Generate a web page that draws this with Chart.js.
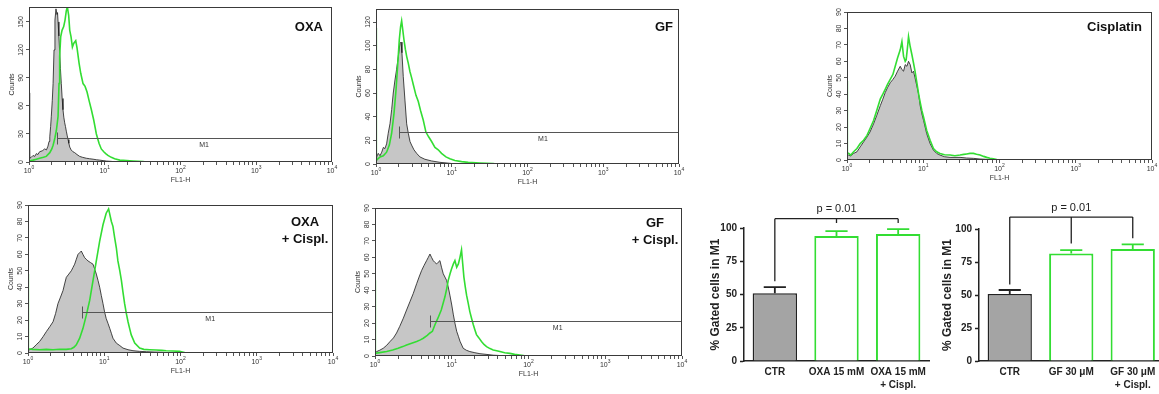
<!DOCTYPE html>
<html>
<head>
<meta charset="UTF-8" />
<title>FL1-H histograms and % gated cells in M1</title>
<script src="https://cdn.jsdelivr.net/npm/chart.js"></script>
<style>
  body {
    margin: 0;
    padding: 0;
    background: #ffffff;
    overflow: hidden;
    width: 1159px;
    height: 394px;
    position: relative;
  }
  canvas { position: absolute; }
</style>
</head>
<body>
<canvas id="h1" width="340" height="183" style="left:4px; top:3px;"></canvas>
<canvas id="h2" width="340" height="183" style="left:351px; top:5px;"></canvas>
<canvas id="h3" width="342" height="176" style="left:822px; top:8px;"></canvas>
<canvas id="h4" width="342" height="176" style="left:3px; top:201px;"></canvas>
<canvas id="h5" width="344" height="176" style="left:350px; top:204px;"></canvas>
<canvas id="b1" width="245" height="194" style="left:695px; top:200px;"></canvas>
<canvas id="b2" width="240" height="194" style="left:930px; top:200px;"></canvas>

<script>
// ---- histogram data (FL1-H channel, counts) ----
// OXA
const p1GrayX = [1, 1.02, 1.07, 1.13, 1.19, 1.25, 1.31, 1.38, 1.5, 1.61, 1.7, 1.78, 1.84, 1.88, 1.93, 1.97, 2.03, 2.08, 2.14, 2.2, 2.27, 2.34, 2.38, 2.42, 2.48, 2.54, 2.6, 2.67, 2.74, 2.81, 2.88, 2.96, 3.03, 3.11, 3.2, 3.28, 3.36, 3.45, 3.6, 3.8, 4.01, 4.3, 4.67, 5.1, 5.72, 6.3, 7.01, 7.8, 8.59, 9.5, 10.5, 12, 15, 10000];
const p1GrayY = [74, 4, 5, 7, 6, 9, 8, 11, 12, 14, 13, 17, 22, 27, 38, 49, 66, 84, 120, 152, 164, 158, 160, 150, 135, 118, 100, 84, 68, 56, 48, 42, 38, 33, 28, 24, 20, 16, 13, 11, 10, 8, 6, 5, 4, 3.5, 3, 2.4, 2, 1.5, 1, 0.7, 0, 0];
const p1GreenX = [1, 1.13, 1.25, 1.38, 1.55, 1.69, 1.88, 2.0, 2.08, 2.2, 2.3, 2.42, 2.49, 2.54, 2.62, 2.73, 2.87, 2.99, 3.11, 3.21, 3.34, 3.45, 3.59, 3.74, 3.89, 4.14, 4.31, 4.58, 4.82, 5.17, 5.5, 5.84, 6.2, 6.66, 7.15, 7.75, 8.4, 9.0, 9.7, 10.3, 11.0, 12.2, 13.5, 15.8, 19.4, 23.7, 32, 35.4, 10000];
const p1GreenY = [1, 2, 3, 4, 5, 6, 10, 14, 18, 26, 34, 49, 84, 113, 134, 141, 145, 152, 162, 166, 157, 141, 134, 123, 127, 130, 122, 106, 95, 84, 81, 75, 66, 56, 45, 30, 20, 14, 11, 9, 7, 5, 3.5, 2, 1.5, 1, 0.4, 0, 0];
// GF
const p2GrayX = [1, 1.02, 1.07, 1.13, 1.19, 1.25, 1.31, 1.38, 1.45, 1.53, 1.61, 1.69, 1.78, 1.87, 1.97, 2.07, 2.14, 2.2, 2.29, 2.41, 2.54, 2.67, 2.81, 2.95, 3.17, 3.44, 3.8, 4.42, 5.41, 6.98, 9.45, 11, 10000];
const p2GrayY = [3, 6, 9, 7, 10, 14, 13, 17, 26, 34, 46, 60, 71, 80, 91, 102, 103, 94, 74, 54, 34, 26, 19, 16, 12, 9, 6, 4, 2.6, 1.4, 0.6, 0, 0];
const p2GreenX = [1, 1.01, 1.13, 1.25, 1.38, 1.5, 1.61, 1.73, 1.84, 1.93, 2.03, 2.11, 2.18, 2.25, 2.34, 2.44, 2.54, 2.67, 2.81, 2.95, 3.11, 3.37, 3.61, 3.88, 4.21, 4.56, 4.95, 5.42, 6.0, 6.63, 7.33, 8.38, 9.45, 11.0, 13.5, 16.5, 23.5, 35.2, 39, 10000];
const p2GreenY = [115, 3, 6, 7, 10, 16, 26, 43, 63, 83, 105, 116, 121, 114, 105, 97, 91, 85, 78, 73, 67, 58, 53, 45, 37, 27, 23, 19, 14, 12, 9, 6, 4.5, 3, 2, 1.4, 0.8, 0.3, 0, 0];
// Cisplatin
const p3GrayX = [1, 1.05, 1.12, 1.22, 1.35, 1.49, 1.65, 1.83, 2.0, 2.23, 2.45, 2.73, 2.95, 3.17, 3.4, 3.69, 4.0, 4.29, 4.6, 4.99, 5.25, 5.52, 5.8, 6.1, 6.41, 6.74, 7.1, 7.45, 7.8, 8.24, 8.7, 9.12, 9.6, 10.1, 11.1, 12.3, 13.6, 15, 16.6, 19, 22.5, 30.4, 37, 45.5, 55.6, 67.9, 83, 101, 10000];
const p3GrayY = [3, 3, 2.5, 4, 5, 8, 11, 14, 17, 22, 27, 33, 37, 41, 44, 47, 49, 51, 54, 57, 55, 54, 58, 57, 60, 58, 53, 54, 50, 45, 40, 33, 28, 24, 16, 10, 6, 4, 3, 2, 1.6, 1.6, 1.2, 1, 0.6, 0.4, 0.2, 0, 0];
const p3GreenX = [1, 1.01, 1.05, 1.12, 1.22, 1.35, 1.49, 1.65, 1.83, 2.0, 2.23, 2.45, 2.73, 2.95, 3.17, 3.4, 3.69, 4.0, 4.29, 4.6, 4.99, 5.25, 5.52, 5.8, 5.97, 6.2, 6.41, 6.74, 7.1, 7.45, 7.8, 8.24, 8.7, 9.12, 9.6, 10.1, 11.1, 12.3, 13.6, 15, 16.6, 19, 22.5, 26, 30.4, 34, 37.2, 41, 45.5, 50, 55.6, 62, 67.9, 75, 83, 92, 101, 10000];
const p3GreenY = [48, 4, 4, 3, 5, 7, 10, 12, 15, 19, 24, 30, 37, 40, 43, 46, 49, 52, 57, 62, 67, 72, 63, 60, 61, 68, 75, 69, 64, 59, 54, 47, 40, 35, 30, 26, 18, 12, 7, 5, 4, 3.2, 3, 2.6, 3, 3.4, 3.7, 4, 4, 3.5, 3, 2.2, 1.6, 1.1, 0.8, 0.3, 0, 0];
// OXA + Cispl.
const p4GrayX = [1, 1.05, 1.16, 1.28, 1.42, 1.58, 1.74, 1.93, 2.13, 2.3, 2.47, 2.67, 2.88, 3.02, 3.18, 3.43, 3.7, 3.89, 4.09, 4.3, 4.53, 4.76, 5.0, 5.25, 5.53, 5.8, 6.12, 6.6, 7.12, 7.5, 7.87, 8.3, 8.71, 9.15, 9.63, 10.1, 10.6, 11.2, 11.8, 12.4, 13.0, 14.4, 16, 17.6, 20.5, 23.8, 29, 35.6, 45, 55, 65, 75, 10000];
const p4GrayY = [2, 2, 3, 5, 7, 10, 13, 16, 19, 24, 30, 34, 38, 42, 46, 48, 50, 52, 54, 57, 60, 61, 62, 60, 58, 57, 56, 55, 54, 51, 48, 44, 40, 35, 30, 25, 21, 18, 15, 12, 9, 6, 4.5, 3, 2, 1.4, 1, 0.8, 0.6, 0.5, 0.3, 0, 0];
const p4GreenX = [1, 1.01, 1.16, 1.42, 1.74, 2.13, 2.6, 3.18, 3.7, 4.0, 4.3, 4.76, 5.26, 5.82, 6.44, 7.12, 7.87, 8.71, 9.63, 10.6, 11.4, 12.4, 13.0, 13.7, 14.4, 15.1, 16.0, 16.8, 17.6, 18.5, 19.5, 20.5, 21.5, 22.6, 25.1, 29.1, 33, 39.4, 48, 57, 65, 80, 97.5, 119, 10000];
const p4GreenY = [48, 2.6, 2.2, 2, 2.2, 2, 2.3, 2.2, 2.6, 3.5, 5, 9, 15, 23, 32, 44, 56, 68, 78, 85, 87.6, 80, 77, 70, 64, 56, 50, 44, 37, 30, 24, 19, 15, 11, 6, 3, 2.2, 2, 1.8, 1.6, 1.4, 1.2, 1, 0, 0];
// GF + Cispl.
const p5GrayX = [1, 1.05, 1.15, 1.28, 1.42, 1.57, 1.74, 1.91, 2.1, 2.34, 2.58, 2.85, 3.15, 3.49, 3.75, 4.05, 4.35, 4.7, 4.95, 5.2, 5.45, 5.74, 6.0, 6.35, 6.65, 7.01, 7.35, 7.75, 8.15, 8.57, 9.0, 9.46, 10.0, 10.5, 11.0, 11.6, 12.2, 12.8, 14.1, 15.5, 17.2, 20, 23.3, 28, 34.7, 42, 51.7, 10000];
const p5GrayY = [2, 2.7, 3.5, 4.7, 6.5, 8.8, 11, 14, 18, 23, 28, 33, 38, 44, 48, 52, 55, 58, 60, 62, 60, 58, 57, 56, 57, 58, 54, 50, 48, 46, 42, 37, 31, 25, 20, 15, 12, 9, 4.7, 3.5, 2.7, 2, 1.4, 1, 0.5, 0.3, 0, 0];
const p5GreenX = [1, 1.01, 1.2, 1.42, 1.7, 2.0, 2.3, 2.58, 3.0, 3.49, 3.9, 4.26, 4.8, 5.2, 5.6, 6.04, 6.6, 7.3, 8.15, 8.6, 9.0, 9.5, 9.95, 10.5, 11.0, 11.6, 12.2, 12.8, 13.4, 13.9, 14.4, 15.0, 15.6, 16.4, 17.2, 18.1, 19.1, 20, 21, 22.6, 24.4, 26.3, 28.4, 31.5, 34.7, 38.5, 42.4, 49, 57.1, 66, 77.1, 94, 10000];
const p5GreenY = [46, 1.6, 2.2, 2.7, 3.7, 4.7, 5.7, 6.7, 7.8, 8.8, 9.8, 10.8, 12.5, 14, 15, 19, 23, 28, 36, 41, 46, 50, 53, 56, 58, 54, 56, 60, 64.6, 56, 48, 42, 37, 32, 27, 23, 19, 16, 13, 11, 8.8, 7, 5.7, 4.5, 3.7, 3.2, 2.7, 2, 1.6, 1, 0.6, 0, 0];

// per panel: y axis max, tick step, M1 gate (start channel, level, label channel)
const histoYMax = [166, 131, 90, 90, 90];
const histoStep = [30, 20, 10, 10, 10];
const m1Start = [2.34, 2.03, null, 5.1, 5.2];
const m1Level = [26, 27, null, 25, 21];
const m1LabelX = [205, 160, null, 245, 240];
const histoTitles = [['OXA'], ['GF'], ['Cisplatin'], ['OXA', '+ Cispl.'], ['GF', '+ Cispl.']];

// ---- bar charts ----
const oxaLabels = ['CTR', 'OXA 15 mM', ['OXA 15 mM', '+ Cispl.']];
const oxaMeans = [51, 94, 95.5];
const oxaErrTop = [55.6, 97.7, 99.2];
const oxaBracketTop = 107;
const oxaBracketDrop = [60, 103.8, 103.8];

const gfLabels = ['CTR', 'GF 30 \u03bcM', ['GF 30 \u03bcM', '+ Cispl.']];
const gfMeans = [50.7, 81.5, 84.8];
const gfErrTop = [53.8, 84, 88.3];
const gfBracketTop = 109;
const gfBracketDrop = [58, 89, 93];

const pLabel = 'p = 0.01';
const yTicksBar = [0, 25, 50, 75, 100];

const FONT = '"Liberation Sans", Arial, sans-serif';
const GREEN = '#33dd33';
const CTR_GRAY = '#a4a4a4';

function pts(xs, ys) {
  return xs.map((x, i) => ({ x: x, y: ys[i] }));
}

// draws labels, frame, M1 gate and title of a histogram
function histoDecor(n, title) {
  return {
    id: 'histoDecor' + n,
    afterDraw(chart) {
      const ctx = chart.ctx;
      const a = chart.chartArea;
      const xs = chart.scales.x;
      const ys = chart.scales.y;
      ctx.save();
      ctx.fillStyle = '#333';
      ctx.textBaseline = 'middle';

      // y tick labels, rotated
      ctx.font = '7px ' + FONT;
      ctx.textAlign = 'center';
      ys.ticks.forEach(t => {
        ctx.save();
        ctx.translate(a.left - 8, ys.getPixelForValue(t.value));
        ctx.rotate(-Math.PI / 2);
        ctx.fillText(String(t.value), 0, 0);
        ctx.restore();
      });
      ctx.save();
      ctx.translate(a.left - 17, (a.top + a.bottom) / 2);
      ctx.rotate(-Math.PI / 2);
      ctx.fillText('Counts', 0, 0);
      ctx.restore();

      // decade labels 10^n
      xs.ticks.forEach(t => {
        const e = Math.log10(t.value);
        if (Math.abs(e - Math.round(e)) > 1e-6) return;
        const px = xs.getPixelForValue(t.value);
        const ex = String(Math.round(e));
        ctx.font = '7px ' + FONT;
        const w1 = ctx.measureText('10').width;
        ctx.font = '5px ' + FONT;
        const w2 = ctx.measureText(ex).width;
        const x0 = px - (w1 + w2) / 2;
        ctx.textAlign = 'left';
        ctx.font = '7px ' + FONT;
        ctx.fillText('10', x0, a.bottom + 9);
        ctx.font = '5px ' + FONT;
        ctx.fillText(ex, x0 + w1, a.bottom + 6);
      });
      ctx.font = '7px ' + FONT;
      ctx.textAlign = 'center';
      ctx.fillText('FL1-H', (a.left + a.right) / 2, a.bottom + 18);

      // M1 gate
      if (m1Start[n] !== null) {
        const gy = Math.round(ys.getPixelForValue(m1Level[n])) + 0.5;
        const gx = Math.round(xs.getPixelForValue(m1Start[n])) + 0.5;
        ctx.strokeStyle = '#555';
        ctx.lineWidth = 1;
        ctx.beginPath();
        ctx.moveTo(gx, gy);
        ctx.lineTo(a.right, gy);
        ctx.moveTo(gx, gy - 6);
        ctx.lineTo(gx, gy + 6);
        ctx.stroke();
        ctx.fillText('M1', xs.getPixelForValue(m1LabelX[n]), gy + 7);
      }

      // frame
      ctx.strokeStyle = '#3a3a3a';
      ctx.lineWidth = 1;
      ctx.strokeRect(a.left + 0.5, a.top + 0.5, a.right - a.left - 1, a.bottom - a.top - 1);

      // panel title
      ctx.fillStyle = '#111';
      ctx.font = 'bold 13px ' + FONT;
      const lines = histoTitles[n];
      if (lines.length === 1) {
        ctx.textAlign = 'right';
        ctx.fillText(lines[0], a.right - title.dx, a.top + title.dy);
      } else {
        ctx.textAlign = 'center';
        ctx.fillText(lines[0], a.right - title.dx, a.top + title.dy);
        ctx.fillText(lines[1], a.right - title.dx, a.top + title.dy + 17);
      }
      ctx.restore();
    }
  };
}

function makeHisto(id, n, grayX, grayY, greenX, greenY, title) {
  return new Chart(document.getElementById(id), {
    type: 'line',
    data: {
      datasets: [
        {
          data: pts(greenX, greenY),
          borderColor: GREEN,
          borderWidth: 1.6,
          fill: false,
          order: 0
        },
        {
          data: pts(grayX, grayY),
          borderColor: '#1a1a1a',
          borderWidth: 0.8,
          backgroundColor: '#c6c6c6',
          fill: 'origin',
          order: 1
        }
      ]
    },
    options: {
      responsive: false,
      animation: false,
      devicePixelRatio: 1,
      layout: { padding: { left: 0, top: 4, right: 12, bottom: 0 } },
      elements: { point: { radius: 0 }, line: { tension: 0 } },
      plugins: { legend: { display: false }, tooltip: { enabled: false } },
      scales: {
        x: {
          type: 'logarithmic',
          min: 1,
          max: 10000,
          ticks: { display: false, autoSkip: false },
          grid: { drawOnChartArea: false, drawTicks: true, tickLength: 3, tickColor: '#555' },
          border: { display: false },
          afterBuildTicks: (s) => {
            s.ticks = s.ticks.filter(t => {
              const m = t.value / Math.pow(10, Math.floor(Math.log10(t.value) + 1e-9));
              return Math.abs(m - Math.round(m)) < 1e-6;
            });
          },
          afterFit: (s) => { s.height = 24; }
        },
        y: {
          type: 'linear',
          min: 0,
          max: histoYMax[n],
          ticks: { display: false, stepSize: histoStep[n], includeBounds: false },
          grid: { drawOnChartArea: false, drawTicks: true, tickLength: 3, tickColor: '#555' },
          border: { display: false },
          afterFit: (s) => { s.width = 25; }
        }
      }
    },
    plugins: [histoDecor(n, title)]
  });
}

makeHisto('h1', 0, p1GrayX, p1GrayY, p1GreenX, p1GreenY, { dx: 9, dy: 20 });
makeHisto('h2', 1, p2GrayX, p2GrayY, p2GreenX, p2GreenY, { dx: 6, dy: 18 });
makeHisto('h3', 2, p3GrayX, p3GrayY, p3GreenX, p3GreenY, { dx: 10, dy: 15 });
makeHisto('h4', 3, p4GrayX, p4GrayY, p4GreenX, p4GreenY, { dx: 28, dy: 17 });
makeHisto('h5', 4, p5GrayX, p5GrayY, p5GreenX, p5GreenY, { dx: 27, dy: 15 });

// error bars and significance bracket
function barDecor(means, errTop, bracketTop, bracketDrop) {
  const lineColors = ['#222', GREEN, GREEN];
  return {
    id: 'barDecor',
    afterDatasetsDraw(chart) {
      const ctx = chart.ctx;
      const xs = chart.scales.x;
      const ys = chart.scales.y;
      const bars = chart.getDatasetMeta(0).data;
      ctx.save();
      ctx.lineWidth = 1.8;
      means.forEach((m, i) => {
        const x = xs.getPixelForValue(i);
        const half = bars[i].width / 4;
        const y0 = ys.getPixelForValue(m);
        const y1 = ys.getPixelForValue(errTop[i]);
        ctx.strokeStyle = lineColors[i];
        ctx.beginPath();
        ctx.moveTo(x, y0);
        ctx.lineTo(x, y1);
        ctx.moveTo(x - half, y1);
        ctx.lineTo(x + half, y1);
        ctx.stroke();
      });
      ctx.restore();
    },
    afterDraw(chart) {
      const ctx = chart.ctx;
      const xs = chart.scales.x;
      const ys = chart.scales.y;
      const yb = ys.getPixelForValue(bracketTop);
      ctx.save();
      ctx.strokeStyle = '#222';
      ctx.lineWidth = 1.3;
      ctx.beginPath();
      ctx.moveTo(xs.getPixelForValue(0), yb);
      ctx.lineTo(xs.getPixelForValue(2), yb);
      bracketDrop.forEach((d, i) => {
        ctx.moveTo(xs.getPixelForValue(i), yb);
        ctx.lineTo(xs.getPixelForValue(i), ys.getPixelForValue(d));
      });
      ctx.stroke();
      ctx.fillStyle = '#222';
      ctx.font = '11px ' + FONT;
      ctx.textAlign = 'center';
      ctx.textBaseline = 'middle';
      ctx.fillText(pLabel, (xs.getPixelForValue(0) + xs.getPixelForValue(2)) / 2, yb - 9.5);
      ctx.restore();
    }
  };
}

function makeBar(id, labels, means, errTop, bracketTop, bracketDrop, pad, axisW) {
  return new Chart(document.getElementById(id), {
    type: 'bar',
    data: {
      labels: labels,
      datasets: [{
        data: means,
        backgroundColor: [CTR_GRAY, '#ffffff', '#ffffff'],
        borderColor: ['#222', GREEN, GREEN],
        borderWidth: [1.5, 2, 2],
        barPercentage: 0.72,
        categoryPercentage: 1
      }]
    },
    options: {
      responsive: false,
      animation: false,
      devicePixelRatio: 1,
      layout: { padding: pad },
      plugins: { legend: { display: false }, tooltip: { enabled: false } },
      scales: {
        x: {
          grid: { display: false, drawTicks: false },
          border: { display: true, color: '#222', width: 1.5 },
          ticks: {
            color: '#222',
            padding: 4,
            maxRotation: 0,
            autoSkip: false,
            font: { family: FONT, size: 10, weight: 'bold', lineHeight: 1.35 }
          },
          afterFit: (s) => { s.height = 33; }
        },
        y: {
          min: 0,
          max: 100,
          afterBuildTicks: (s) => { s.ticks = yTicksBar.map(v => ({ value: v })); },
          ticks: {
            color: '#222',
            padding: 3,
            font: { family: FONT, size: 10, weight: 'bold' }
          },
          grid: { drawOnChartArea: false, drawTicks: true, tickLength: 4, tickColor: '#222', tickWidth: 1.5 },
          border: { display: true, color: '#222', width: 1.5 },
          title: {
            display: true,
            text: '% Gated cells in M1',
            color: '#222',
            font: { family: FONT, size: 12, weight: 'bold' },
            padding: { top: 4, bottom: 4 }
          },
          afterFit: (s) => { s.width = axisW; }
        }
      }
    },
    plugins: [barDecor(means, errTop, bracketTop, bracketDrop)]
  });
}

makeBar('b1', oxaLabels, oxaMeans, oxaErrTop, oxaBracketTop, oxaBracketDrop,
  { left: 9, top: 28, right: 11, bottom: 0 }, 40);
makeBar('b2', gfLabels, gfMeans, gfErrTop, gfBracketTop, gfBracketDrop,
  { left: 6, top: 29, right: 6.5, bottom: 0 }, 43);
</script>
</body>
</html>
